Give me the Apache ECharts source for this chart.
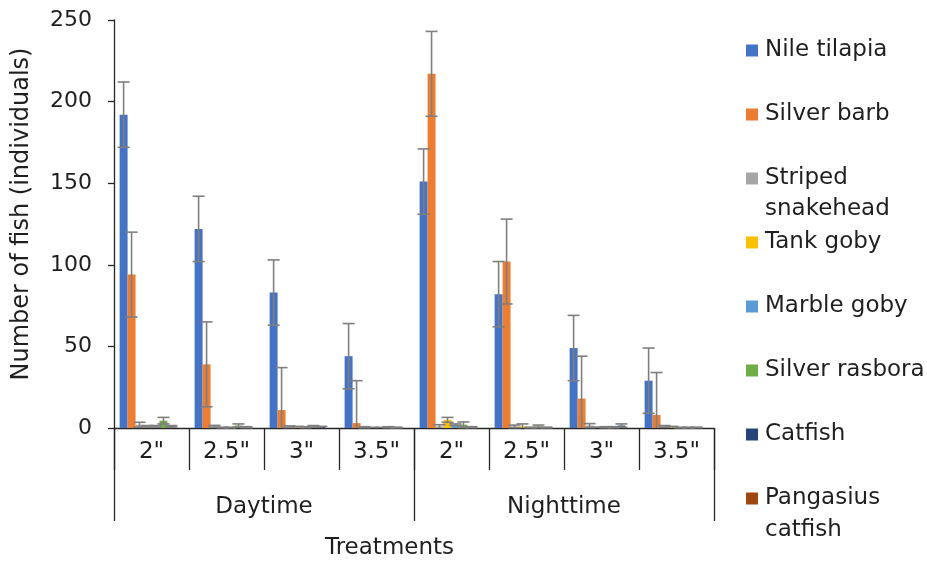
<!DOCTYPE html>
<html>
<head>
<meta charset="utf-8">
<script src="https://cdn.jsdelivr.net/npm/echarts@6/dist/echarts.min.js"></script>
<style>html,body{margin:0;padding:0;background:#fff}#c{width:927px;height:563px}</style>
</head>
<body>
<div id="c"></div>
<script>
// ---- data ----
const categories = ['2"', '2.5"', '3"', '3.5"', '2"', '2.5"', '3"', '3.5"'];
const groups = ['Daytime', 'Nighttime'];
const seriesNames = ['Nile tilapia', 'Silver barb', 'Striped snakehead', 'Tank goby', 'Marble goby', 'Silver rasbora', 'Catfish', 'Pangasius catfish'];
const legendLabels = ['Nile tilapia', 'Silver barb', 'Striped', 'Tank goby', 'Marble goby', 'Silver rasbora', 'Catfish', 'Pangasius'];
const legendSecondLines = ['', '', 'snakehead', '', '', '', '', 'catfish'];
const colors = ['#4472C4', '#ED7D31', '#A5A5A5', '#FFC000', '#5B9BD5', '#70AD47', '#264478', '#9E480E'];

const nileTilapia      = [192, 122, 83, 44, 151, 82, 49, 29];
const nileTilapiaErr   = [20, 20, 20, 20, 20, 20, 20, 20];
const silverBarb       = [94, 39, 11, 3, 217, 102, 18, 8];
const silverBarbErr    = [26, 26, 26, 26, 26, 26, 26, 26];
const stripedSnakehead = [2, 1, 0.8, 0.5, 1, 1, 1.5, 1];
const stripedErr       = [1.5, 0.6, 0.5, 0.3, 1, 0.8, 1.2, 0.5];
const tankGoby         = [1, 0.3, 0.5, 0.2, 5, 1, 0.3, 0.5];
const tankGobyErr      = [0.5, 0.2, 0.5, 0.2, 1.5, 1.5, 0.3, 0.5];
const marbleGoby       = [1, 0.3, 0.5, 0.2, 2, 0.3, 0.5, 0.3];
const marbleGobyErr    = [0.5, 0.2, 0.3, 0.2, 0.5, 0.2, 0.3, 0.2];
const silverRasbora    = [4.5, 1.5, 1, 0.5, 2, 1, 0.5, 0.3];
const silverRasboraErr = [2, 1, 0.5, 0.3, 1.7, 0.8, 0.3, 0.2];
const catfish          = [1, 0.5, 0.5, 0.3, 0.5, 0.3, 1.5, 0.3];
const catfishErr       = [0.5, 0.3, 0.5, 0.2, 0.3, 0.2, 1, 0.2];
const pangasiusCatfish = [0, 0, 0, 0, 0, 0, 0, 0];
const pangasiusErr     = [0, 0, 0, 0, 0, 0, 0, 0];

const yTicks = {min: 0, max: 250, interval: 50};

const values = [nileTilapia, silverBarb, stripedSnakehead, tankGoby, marbleGoby, silverRasbora, catfish, pangasiusCatfish];
const errors = [nileTilapiaErr, silverBarbErr, stripedErr, tankGobyErr, marbleGobyErr, silverRasboraErr, catfishErr, pangasiusErr];

// ---- chart ----
const FONT = 'DejaVu Sans';
const TXT = '#1f1f1f';
const AX = '#262626';
const FS = 23;

const chart = echarts.init(document.getElementById('c'), null, {renderer: 'canvas'});

const barSeries = seriesNames.map((n, s) => ({
  name: n,
  type: 'bar',
  xAxisIndex: 0,
  barGap: '0%',
  barCategoryGap: '15%',
  itemStyle: {color: colors[s]},
  data: values[s],
  z: 2
}));

const errData = [];
values.forEach((arr, s) => arr.forEach((v, i) => {
  if (errors[s][i] > 0) errData.push([i, v, errors[s][i], s]);
}));

const errSeries = {
  name: 'errors',
  type: 'custom',
  xAxisIndex: 0,
  z: 5,
  silent: true,
  encode: {x: 0, y: 1},
  data: errData,
  renderItem: function (params, api) {
    const ci = api.value(0), v = api.value(1), e = api.value(2), s = api.value(3);
    const bandW = api.size([1, 0])[0];
    const barW = bandW * 0.85 / 8;
    const cx = api.coord([ci, 0])[0] + (s - 3.5) * barW;
    const yTop = api.coord([ci, v + e])[1];
    const lowV = Math.max(0, v - e);
    const yBot = api.coord([ci, lowV])[1];
    const hw = 6;
    const st = {stroke: '#7f7f7f', lineWidth: 1.6};
    const ch = [
      {type: 'line', shape: {x1: cx, y1: yTop, x2: cx, y2: yBot}, style: st},
      {type: 'line', shape: {x1: cx - hw, y1: yTop, x2: cx + hw, y2: yTop}, style: st}
    ];
    if (v - e > 0) ch.push({type: 'line', shape: {x1: cx - hw, y1: yBot, x2: cx + hw, y2: yBot}, style: st});
    return {type: 'group', children: ch};
  }
};

const option = {
  backgroundColor: '#fff',
  animation: false,
  textStyle: {fontFamily: FONT},
  grid: {left: 114, right: 213, top: 20, bottom: 135, containLabel: false},
  legend: {
    orient: 'vertical',
    left: 746,
    top: 39,
    padding: 0,
    itemWidth: 12,
    itemHeight: 12,
    itemGap: 41,
    icon: 'rect',
    data: seriesNames,
    formatter: function (name) { return legendLabels[seriesNames.indexOf(name)]; },
    textStyle: {fontFamily: FONT, fontSize: FS, color: TXT, padding: [0, 0, 0, 2]},
    selectedMode: false
  },
  xAxis: [
    {
      type: 'category',
      data: categories,
      position: 'bottom',
      axisLine: {show: true, lineStyle: {color: AX, width: 1.3}},
      axisTick: {show: true, interval: 0, length: 42, lineStyle: {color: AX, width: 1.3}},
      axisLabel: {interval: 0, fontFamily: FONT, fontSize: FS, color: TXT, margin: 13},
      splitLine: {show: false}
    },
    {
      type: 'category',
      data: groups,
      position: 'bottom',
      offset: 0,
      axisLine: {show: false},
      axisTick: {show: true, interval: 0, length: 93, lineStyle: {color: AX, width: 1.3}},
      axisLabel: {interval: 0, fontFamily: FONT, fontSize: FS, color: TXT, margin: 68},
      splitLine: {show: false}
    }
  ],
  yAxis: {
    type: 'value',
    min: yTicks.min,
    max: yTicks.max,
    interval: yTicks.interval,
    name: 'Number of fish (individuals)',
    nameLocation: 'middle',
    nameGap: 80,
    nameTextStyle: {fontFamily: FONT, fontSize: 24, color: TXT, padding: [0, 0, 0, 20]},
    axisLine: {show: true, lineStyle: {color: AX, width: 1.3}},
    axisTick: {show: true, length: 6, lineStyle: {color: AX, width: 1.3}},
    axisLabel: {fontFamily: FONT, fontSize: FS - 1, color: TXT, margin: 22},
    splitLine: {show: false}
  },
  graphic: [
    {type: 'text', left: 765, top: 198, style: {text: legendSecondLines[2], font: FS + 'px ' + FONT, fill: TXT}},
    {type: 'text', left: 765, top: 519, style: {text: legendSecondLines[7], font: FS + 'px ' + FONT, fill: TXT}},
    {type: 'text', left: 325, top: 537, style: {text: 'Treatments', font: FS + 'px ' + FONT, fill: TXT}}
  ],
  series: barSeries.concat([errSeries])
};

chart.setOption(option);
</script>
</body>
</html>
